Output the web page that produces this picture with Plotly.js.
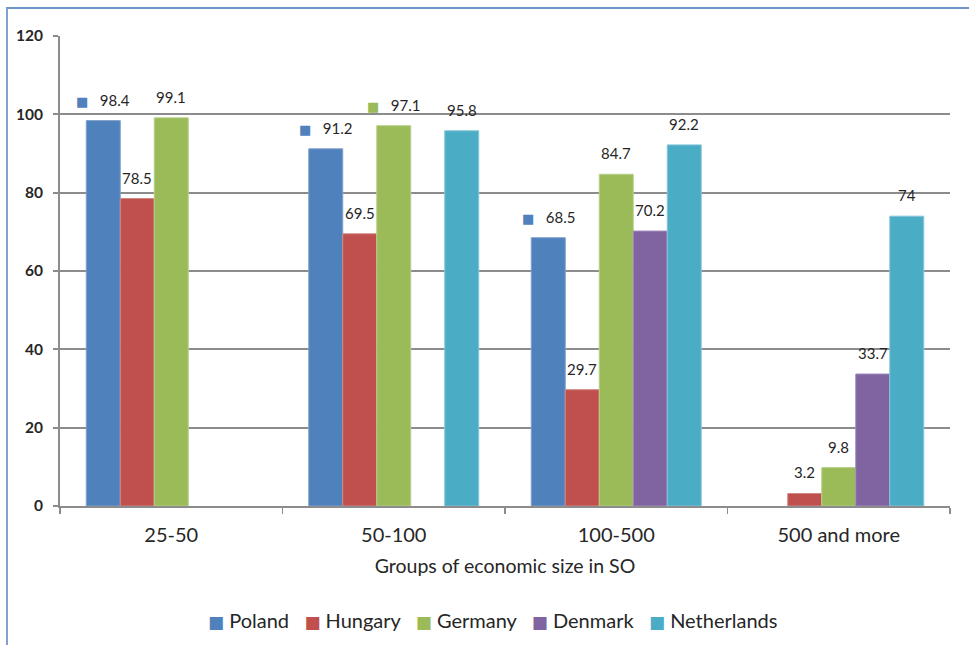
<!DOCTYPE html>
<html><head><meta charset="utf-8">
<script src="https://cdn.plot.ly/plotly-3.0.1.min.js"></script>
<style>
html,body{margin:0;padding:0;background:#fff;overflow:hidden;}
#frame{position:absolute;left:6px;top:7px;width:980px;height:660px;border-left:2px solid #7fa2d0;border-top:2px solid #6f95c9;}
#chart{position:absolute;left:0;top:0;width:969px;height:645px;}
</style></head><body>
<div id="frame"></div>
<div id="chart"></div>
<script>
// Groups of economic size (SO) and share per country
const categories = ['25-50', '50-100', '100-500', '500 and more'];
const seriesNames = ['Poland', 'Hungary', 'Germany', 'Denmark', 'Netherlands'];
const poland      = [98.4, 91.2, 68.5, null];
const hungary     = [78.5, 69.5, 29.7, 3.2];
const germany     = [99.1, 97.1, 84.7, 9.8];
const denmark     = [null, null, 70.2, 33.7];
const netherlands = [null, 95.8, 92.2, 74];
const yTicks = [0, 20, 40, 60, 80, 100, 120];

// data labels that also carry the series' legend key
const keyedPoland  = [true, true, true, false];
const keyedGermany = [false, true, false, false];
const noKeys = [false, false, false, false];

const seriesValues = [poland, hungary, germany, denmark, netherlands];
const seriesKeyed  = [keyedPoland, noKeys, keyedGermany, noKeys, noKeys];
const colors = ['#4F81BD', '#C0504D', '#9BBB59', '#8064A2', '#4BACC6'];
const edges  = ['#7fa0cc', '#d08886', '#b7cf8b', '#a08dbc', '#86c6d8'];

const FONT = 'Lato, "Open Sans", sans-serif';
const TEXT = '#262626';
const bargap = 0.236;
const nSeries = seriesNames.length;
const barFrac = (1 - bargap) / nSeries;

const keySquare = (color, size) =>
  '<span style="color:' + color + ';font-family:DejaVu Sans;font-size:' + size + 'px">■</span>';

const traces = seriesNames.map((name, i) => ({
  type: 'bar',
  name: name,
  x: categories,
  y: seriesValues[i],
  marker: {color: colors[i], line: {color: edges[i], width: 1}},
  showlegend: false
}));

const annotations = [];
seriesValues.forEach((vals, i) => {
  vals.forEach((v, c) => {
    if (v === null) return;
    const text = seriesKeyed[i][c]
      ? keySquare(colors[i], 13) + '&nbsp;&nbsp;&nbsp;' + v
      : String(v);
    annotations.push({
      x: c + (i - (nSeries - 1) / 2) * barFrac,
      y: v,
      xref: 'x', yref: 'y',
      text: text,
      showarrow: false,
      yanchor: 'bottom',
      yshift: 10,
      font: {family: FONT, size: 15, color: TEXT}
    });
  });
});

// legend row under the axis title
const gap = '&nbsp;'.repeat(3);
const legendText = seriesNames
  .map((name, i) => keySquare(colors[i], 17) + '&nbsp;' + name)
  .join(gap);
annotations.push({
  xref: 'paper', yref: 'paper',
  x: 0.4865, y: -0.243,
  xanchor: 'center', yanchor: 'middle',
  text: legendText,
  showarrow: false,
  font: {family: FONT, size: 20, color: TEXT}
});

const layout = {
  width: 969, height: 645,
  margin: {l: 60, r: 19, t: 36, b: 139},
  paper_bgcolor: 'rgba(0,0,0,0)',
  plot_bgcolor: 'rgba(0,0,0,0)',
  barmode: 'group',
  bargap: bargap,
  bargroupgap: 0,
  font: {family: FONT, color: TEXT},
  showlegend: false,
  xaxis: {
    type: 'category',
    tickson: 'boundaries',
    ticks: 'outside', ticklen: 6, tickwidth: 1.5, tickcolor: '#8c8c8c',
    ticklabelstandoff: 10,
    showline: true, linecolor: '#8c8c8c', linewidth: 2,
    showgrid: false,
    tickfont: {family: FONT, size: 20, color: TEXT},
    title: {text: 'Groups of economic size in SO', font: {family: FONT, size: 19.5, color: TEXT}, standoff: 14},
    fixedrange: true
  },
  yaxis: {
    range: [0, 120],
    tickvals: yTicks,
    ticks: 'outside', ticklen: 5, tickwidth: 2, tickcolor: '#8c8c8c',
    ticklabelstandoff: 7,
    showline: true, linecolor: '#8c8c8c', linewidth: 2,
    showgrid: true, gridcolor: '#8c8c8c', gridwidth: 2,
    zeroline: false,
    tickfont: {family: FONT, size: 15.5, color: TEXT, weight: 'bold'},
    fixedrange: true
  },
  annotations: annotations
};

Plotly.newPlot('chart', traces, layout, {displayModeBar: false, staticPlot: true});
</script>
</body></html>
